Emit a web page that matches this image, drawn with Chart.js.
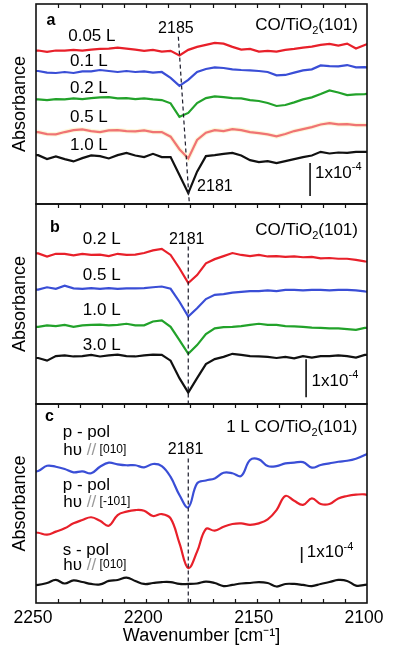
<!DOCTYPE html>
<html><head><meta charset="utf-8">
<script src="https://cdn.jsdelivr.net/npm/chart.js@4.4.1/dist/chart.umd.min.js"></script>
<style>
html,body{margin:0;padding:0;background:#fff;}
#wrap{position:relative;width:393px;height:650px;overflow:hidden;}
canvas{position:absolute;left:0;top:0;}
</style></head><body>
<div id="wrap">
<canvas id="ca" width="393" height="650"></canvas>
<canvas id="cb" width="393" height="650"></canvas>
<canvas id="cc" width="393" height="650"></canvas>
</div>
<script>
// shared wavenumber grid (cm^-1)
const wavenumbers = [2253,2249,2245,2241,2237,2233,2229,2225,2221,2217,2213,2209,2205,2201,2197,2193,2189,2185,2181,2177,2173,2169,2165,2161,2157,2153,2149,2145,2141,2137,2133,2129,2125,2121,2117,2113,2109,2105,2101,2097];

// Panel a (units: 1e-5 absorbance, spectra offset)
const a_005L = [46.5,46.5,46.1,46.5,46.5,46.7,46.5,46.8,47.0,47.1,47.4,47.1,46.8,46.4,46.7,46.2,46.4,45.0,46.7,47.6,48.2,48.8,48.6,47.6,46.8,47.0,46.2,46.4,46.2,46.7,47.0,47.4,47.7,48.2,48.5,48.0,48.6,47.1,48.2,49.1];
const a_01L  = [40.3,40.3,39.8,39.7,40.0,39.7,40.2,40.2,40.6,40.3,40.0,40.3,40.0,40.2,39.8,40.0,38.2,35.8,37.6,40.0,40.9,41.4,41.2,40.8,40.6,40.5,40.3,40.0,39.0,39.1,39.8,40.5,40.8,42.0,41.8,41.7,42.1,41.4,41.5,41.2];
const a_02L  = [31.7,31.7,31.5,31.8,31.7,32.0,31.8,32.1,32.3,32.4,32.0,32.1,31.8,32.0,31.7,31.5,30.5,26.4,27.6,30.6,32.1,32.6,32.4,32.1,32.0,31.5,31.2,30.6,29.7,30.0,30.8,31.7,32.3,33.3,34.4,33.8,33.0,33.2,33.3,33.6];
const a_05L  = [21.8,21.8,21.2,21.1,21.8,22.4,22.6,22.1,21.8,22.3,22.4,22.1,22.0,22.3,21.8,21.8,20.4,16.6,13.8,19.4,21.6,22.4,22.1,22.7,22.4,21.8,21.5,21.1,20.5,21.2,22.1,22.7,23.3,24.1,24.5,24.1,24.2,23.9,23.9,23.9];
const a_10L  = [14.8,14.8,13.6,14.4,13.6,12.9,13.9,14.7,14.5,13.8,14.8,15.5,14.7,14.2,15.2,14.2,14.2,8.8,3.3,9.8,14.5,14.8,15.2,15.5,14.7,13.3,12.7,13.0,12.4,13.0,13.6,14.2,14.7,15.8,15.3,15.6,15.5,15.8,15.8,15.8];

// Panel b
const b_02L = [39.6,39.6,38.8,39.5,39.5,39.1,39.5,39.2,39.3,38.9,39.5,39.2,39.3,39.7,40.4,40.8,39.2,35.7,31.8,33.9,37.0,38.1,38.9,39.7,39.2,38.9,39.2,38.8,38.9,38.7,38.8,38.6,38.7,38.3,38.4,38.2,38.2,37.9,37.5,37.4];
const b_05L = [30.1,30.1,30.7,30.3,31.1,30.4,30.3,30.5,30.3,30.5,30.3,30.4,30.4,30.5,30.7,30.9,30.3,26.9,23.0,25.2,27.6,28.7,28.9,29.3,29.5,29.7,29.7,29.9,29.7,30.0,30.0,29.9,30.0,30.0,29.9,30.0,30.0,29.9,29.6,29.5];
const b_10L = [20.3,20.3,20.7,20.5,20.8,20.3,20.7,20.8,20.9,20.7,20.8,21.1,20.7,20.7,21.7,22.0,20.3,16.8,13.2,15.5,18.4,19.9,20.2,20.3,20.5,20.8,21.1,20.8,20.8,20.5,20.4,20.3,20.1,20.0,19.9,19.9,19.7,19.5,20.0,20.0];
const b_30L = [12.1,12.1,11.4,12.6,12.8,12.5,12.6,12.9,12.5,12.8,13.0,12.6,12.5,12.8,13.0,12.9,11.4,6.8,3.0,6.8,10.5,11.8,12.4,13.2,12.9,12.6,12.5,12.4,12.1,12.4,12.0,12.6,12.2,12.6,12.6,12.8,12.6,12.2,12.9,12.9];

// Panel c
const c_p010  = [81.9,82.5,85.8,85.2,83.8,81.7,82.3,81.1,85.2,87.7,86.7,86.1,86.1,84.8,86.9,85.6,78.8,67.5,59.8,74.8,76.6,77.9,81.4,81.1,79.4,89.4,89.8,85.6,85.6,87.3,87.7,88.1,84.6,86.3,87.3,88.3,88.9,90.2,92.5,95.6];
const c_pm101 = [44.4,43.9,42.7,44.6,46.7,49.8,51.9,53.6,51.4,48.3,55.0,57.1,58.1,57.7,54.4,55.6,52.9,37.5,21.9,32.1,46.3,45.2,47.7,49.4,49.8,48.9,49.8,52.3,58.1,66.9,63.9,61.3,65.4,61.9,61.9,65.4,66.9,67.7,67.9,66.4];
const c_s010  = [11.3,11.3,12.5,14.4,12.2,14.1,13.1,11.9,11.6,13.8,14.4,15.9,13.8,11.9,12.5,13.1,13.1,11.9,11.9,12.2,13.4,12.5,10.6,11.3,12.2,12.5,13.1,12.5,10.3,11.9,11.9,11.3,10.6,11.9,13.1,14.4,13.8,10.9,11.3,11.9];

// scale bars (1x10^-4 = 10 units) and peak marker lines: [wavenumber, value]
const barA = [[2125.8, 2.4],[2125.8, 12.4]];
const barB = [[2127.6, 1.8],[2127.6, 11.8]];
const barC = [[2129.6, 25],[2129.6, 35]];
const peakA = [[2185.5, 50.7],[2180.5, 0]];
const peakB = [[2181, 41.4],[2181, 0]];
const peakC = [[2181, 90.4],[2181, 0]];
const xTickLabels = [2250, 2200, 2150, 2100];

const FAM = '"Liberation Sans", Arial, Helvetica, sans-serif';
const COL = {red:'#e8202a', blue:'#3a4ed6', green:'#22a22a', salmon:'#f07474', black:'#111111'};

const pts = vals => wavenumbers.map((w,i)=>({x:w, y:vals[i]}));
const pairPts = arr => arr.map(p=>({x:p[0], y:p[1]}));
const trace = (vals, color, extra) => Object.assign({data: pts(vals), borderColor: color, borderWidth: 2.2, pointRadius: 0, tension: 0, fill: false, order: 1}, extra||{});
const bar = arr => ({data: pairPts(arr), borderColor:'#111', borderWidth:1.6, pointRadius:0, fill:false, order:0});
const peak = arr => ({data: pairPts(arr), borderColor:'#1a1a2a', borderWidth:1.2, borderDash:[4,3], pointRadius:0, fill:false, order:0});

// annotation texts positioned in data coordinates
const textA = [
  {x:2245.2, y:55.6, size:16, segs:[['a','b']]},
  {x:2235.4, y:50.7, segs:[['0.05 L','n']]},
  {x:2234.6, y:43.1, segs:[['0.1 L','n']]},
  {x:2234.6, y:35.2, segs:[['0.2 L','n']]},
  {x:2234.6, y:26.4, segs:[['0.5 L','n']]},
  {x:2234.6, y:17.9, segs:[['1.0 L','n']]},
  {x:2186.6, y:53.0, align:'center', size:16, segs:[['2185','n']]},
  {x:2177.0, y:5.2, size:16, segs:[['2181','n']]},
  {x:2123.6, y:9.4, segs:[['1x10','n'],['-4','sup']]},
  {x:2104.1, y:54.2, align:'right', segs:[['CO/TiO','n'],['2','sub'],['(101)','n']]}
];
const textB = [
  {x:2243.7, y:46.3, size:16, segs:[['b','b']]},
  {x:2228.8, y:43.2, segs:[['0.2 L','n']]},
  {x:2228.8, y:33.9, segs:[['0.5 L','n']]},
  {x:2228.8, y:24.7, segs:[['1.0 L','n']]},
  {x:2228.8, y:15.5, segs:[['3.0 L','n']]},
  {x:2181.7, y:43.3, align:'center', size:16, segs:[['2181','n']]},
  {x:2125.1, y:5.9, segs:[['1x10','n'],['-4','sup']]},
  {x:2104.1, y:45.8, align:'right', segs:[['CO/TiO','n'],['2','sub'],['(101)','n']]}
];
const textC = [
  {x:2245.9, y:116.3, size:16, segs:[['c','b']]},
  {x:2237.9, y:106.9, segs:[['p - pol','n']]},
  {x:2237.6, y:95.6, segs:[['h\u03c5 ','n'],['//','g'],[' [010]','s']]},
  {x:2104.4, y:109.7, align:'right', segs:[['1 L CO/TiO','n'],['2','sub'],['(101)','n']]},
  {x:2182.2, y:95.8, align:'center', size:16, segs:[['2181','n']]},
  {x:2237.9, y:73.8, segs:[['p - pol','n']]},
  {x:2237.6, y:63.1, segs:[['h\u03c5 ','n'],['//','g'],[' [-101]','s']]},
  {x:2237.9, y:33.1, segs:[['s - pol','n']]},
  {x:2237.6, y:23.8, segs:[['h\u03c5 ','n'],['//','g'],[' [010]','s']]},
  {x:2127.3, y:31.4, segs:[['1x10','n'],['-4','sup']]}
];

function fontFor(k, base){
  if (k==='b') return `bold ${base}px ${FAM}`;
  if (k==='sub' || k==='sup') return `${Math.round(base*0.62)}px ${FAM}`;
  if (k==='s') return `${Math.round(base*0.72)}px ${FAM}`;
  return `${base}px ${FAM}`;
}
const annotPlugin = {
  id: 'annot',
  afterDraw(chart, args, opts){
    const ctx = chart.ctx, xs = chart.scales.x, ys = chart.scales.y;
    ctx.save();
    ctx.textBaseline = 'middle';
    ctx.textAlign = 'left';
    for (const it of (opts.items||[])){
      const base = it.size || 17;
      let w = 0;
      for (const [t,k] of it.segs){ ctx.font = fontFor(k, base); w += ctx.measureText(t).width; }
      const px = xs.getPixelForValue(it.x), py = ys.getPixelForValue(it.y);
      let x = it.align==='right' ? px - w : it.align==='center' ? px - w/2 : px;
      for (const [t,k] of it.segs){
        ctx.font = fontFor(k, base);
        ctx.fillStyle = k==='g' ? '#9a9a9a' : '#000';
        const dy = k==='sub' ? base*0.34 : k==='sup' ? -base*0.36 : 0;
        ctx.fillText(t, x, py + dy);
        x += ctx.measureText(t).width;
      }
    }
    ctx.restore();
  }
};
const minorTicks = [2240,2230,2220,2210,2200,2190,2180,2170,2160,2150,2140,2130,2120,2110];
const framePlugin = {
  id: 'frame',
  afterDatasetsDraw(chart, args, opts){
    const {ctx, chartArea:{left,right,top,bottom}} = chart;
    const xs = chart.scales.x;
    ctx.save();
    ctx.strokeStyle = '#111'; ctx.lineWidth = 1.6;
    ctx.strokeRect(left, top, right-left, bottom-top);
    ctx.lineWidth = 1.2;
    ctx.beginPath();
    for (const v of minorTicks){
      const p = Math.round(xs.getPixelForValue(v)) + 0.5;
      ctx.moveTo(p, top); ctx.lineTo(p, top+4);
      if (opts.bottomTicks){ ctx.moveTo(p, bottom); ctx.lineTo(p, bottom-4); }
    }
    ctx.stroke();
    ctx.restore();
  }
};

function makeChart(id, datasets, yMax, padTop, padBottom, showX, texts){
  const xOpts = {type:'linear', min:2100, max:2250, reverse:true, display: showX,
    ticks:{stepSize:50, color:'#000', font:{family:FAM, size:17.5}, padding:5, labelOffset:-3, maxRotation:0, autoSkip:false,
      callback: v => xTickLabels.includes(v) ? String(v) : ''},
    grid:{display:false, drawTicks:false}, border:{display:false},
    title:{display:true, text:'Wavenumber [cm\u207b\u00b9]', color:'#000', font:{family:FAM, size:18}, padding:{top:0, bottom:3}}};
  if (showX) xOpts.afterFit = s => { s.height = 47; };
  return new Chart(document.getElementById(id), {
    type:'line',
    data:{datasets},
    plugins:[framePlugin, annotPlugin],
    options:{
      responsive:false, animation:false, events:[],
      layout:{padding:{top:padTop, bottom:padBottom, left:0, right:26}},
      scales:{
        x: xOpts,
        y:{type:'linear', min:0, max:yMax, display:true,
           ticks:{display:false}, grid:{display:false, drawTicks:false}, border:{display:false},
           title:{display:true, text:'Absorbance', color:'#000', font:{family:FAM, size:18}, padding:{top:9, bottom:0}},
           afterFit: s => { s.width = 36; }}
      },
      plugins:{legend:{display:false}, tooltip:{enabled:false},
        annot:{items:texts}, frame:{bottomTicks: showX}}
    }
  });
}

makeChart('ca', [
  trace(a_005L, COL.red),
  trace(a_01L, COL.blue),
  trace(a_02L, COL.green),
  trace(a_05L, COL.salmon),
  trace(a_05L, 'rgba(252,244,200,0.7)', {borderWidth:4.5, order:5}),
  trace(a_10L, COL.black),
  peak(peakA), bar(barA)
], 60.6, 4, 446, false, textA);

makeChart('cb', [
  trace(b_02L, COL.red),
  trace(b_05L, COL.blue),
  trace(b_10L, COL.green),
  trace(b_30L, COL.black),
  peak(peakB), bar(barB)
], 52.6, 204, 246, false, textB);

makeChart('cc', [
  trace(c_p010, COL.blue, {tension:0.4}),
  trace(c_pm101, COL.red, {tension:0.4}),
  trace(c_s010, COL.black, {tension:0.4}),
  peak(peakC), bar(barC)
], 124.4, 404, 0, true, textC);
</script>
</body></html>
